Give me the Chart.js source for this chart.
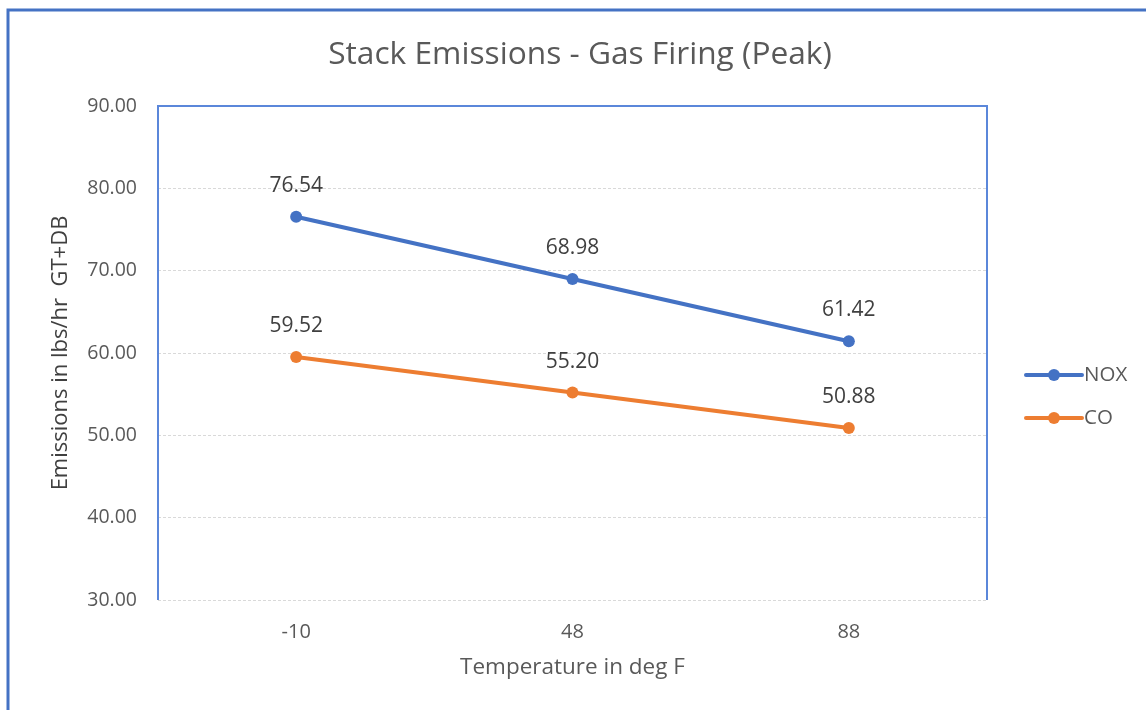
<!DOCTYPE html>
<html>
<head>
<meta charset="utf-8">
<script src="https://cdn.jsdelivr.net/npm/chart.js@4/dist/chart.umd.min.js"></script>
<style>
html,body{margin:0;padding:0;background:#fff;}
#c{display:block;}
</style>
</head>
<body>
<canvas id="c" width="1146" height="710"></canvas>
<script>
const categories = ['-10', '48', '88'];
const noxValues = [76.54, 68.98, 61.42];
const coValues = [59.52, 55.20, 50.88];
const seriesNames = ['NOX', 'CO'];
const yTicks = [30, 40, 50, 60, 70, 80, 90];
const chartTitle = 'Stack Emissions - Gas Firing (Peak)';

const FONT = "'Open Sans', 'Noto Sans', sans-serif";
const TXT = '#595959';
const FRAME = '#4472C4';

const framePlugin = {
  id: 'frame',
  beforeDraw(chart) {
    const ctx = chart.ctx;
    ctx.save();
    ctx.fillStyle = '#fff';
    ctx.fillRect(0, 0, chart.width, chart.height);
    ctx.strokeStyle = FRAME;
    ctx.lineWidth = 3;
    ctx.beginPath();
    ctx.moveTo(8, chart.height);
    ctx.lineTo(8, 10);
    ctx.lineTo(chart.width, 10);
    ctx.stroke();
    // title
    ctx.font = '31.7px ' + FONT;
    ctx.fillStyle = TXT;
    ctx.textAlign = 'center';
    ctx.textBaseline = 'middle';
    ctx.fillText(chartTitle, 580, 55);
    ctx.restore();
  },
  beforeDatasetsDraw(chart) {
    const a = chart.chartArea;
    const ctx = chart.ctx;
    ctx.save();
    ctx.strokeStyle = '#5B87DA';
    ctx.lineWidth = 2;
    ctx.beginPath();
    ctx.moveTo(a.left, a.bottom);
    ctx.lineTo(a.left, a.top);
    ctx.lineTo(a.right, a.top);
    ctx.lineTo(a.right, a.bottom);
    ctx.stroke();
    ctx.restore();
  }
};

const labelPlugin = {
  id: 'valueLabels',
  afterDatasetsDraw(chart) {
    const ctx = chart.ctx;
    ctx.save();
    ctx.font = '21px ' + FONT;
    ctx.fillStyle = '#404040';
    ctx.textAlign = 'center';
    ctx.textBaseline = 'middle';
    chart.data.datasets.forEach((ds, i) => {
      const meta = chart.getDatasetMeta(i);
      meta.data.forEach((pt, j) => {
        ctx.fillText(ds.data[j].toFixed(2), pt.x, pt.y - 31);
      });
    });
    ctx.restore();
  }
};

const legendPlugin = {
  id: 'customLegend',
  afterDraw(chart) {
    const ctx = chart.ctx;
    const a = chart.chartArea;
    ctx.save();
    ctx.font = '20.5px ' + FONT;
    ctx.textBaseline = 'middle';
    ctx.textAlign = 'left';
    const x0 = a.right + 39;
    const y0 = 375;
    chart.data.datasets.forEach((ds, i) => {
      const y = y0 + i * 43;
      ctx.strokeStyle = ds.borderColor;
      ctx.lineWidth = 4;
      ctx.lineCap = 'round';
      ctx.beginPath();
      ctx.moveTo(x0, y);
      ctx.lineTo(x0 + 56, y);
      ctx.stroke();
      ctx.fillStyle = ds.borderColor;
      ctx.beginPath();
      ctx.arc(x0 + 28, y, 6, 0, Math.PI * 2);
      ctx.fill();
      ctx.fillStyle = TXT;
      ctx.fillText(ds.label, x0 + 58, y);
    });
    ctx.restore();
  }
};

new Chart(document.getElementById('c'), {
  type: 'line',
  data: {
    labels: categories,
    datasets: [
      {
        label: seriesNames[0],
        data: noxValues,
        borderColor: '#4472C4',
        backgroundColor: '#4472C4',
        borderWidth: 4,
        pointRadius: 6,
        pointBackgroundColor: '#4472C4',
        pointBorderWidth: 0,
        tension: 0
      },
      {
        label: seriesNames[1],
        data: coValues,
        borderColor: '#ED7D31',
        backgroundColor: '#ED7D31',
        borderWidth: 4,
        pointRadius: 6,
        pointBackgroundColor: '#ED7D31',
        pointBorderWidth: 0,
        tension: 0
      }
    ]
  },
  options: {
    responsive: false,
    animation: false,
    devicePixelRatio: 1,
    layout: { padding: { left: 0, right: 159, top: 106, bottom: 0 } },
    plugins: {
      legend: { display: false },
      tooltip: { enabled: false },
      title: { display: false }
    },
    scales: {
      x: {
        offset: true,
        grid: { display: false, drawTicks: false },
        border: { display: false },
        ticks: { color: TXT, font: { family: FONT, size: 20 }, padding: 20 },
        title: {
          display: true,
          text: 'Temperature in deg F',
          color: TXT,
          font: { family: FONT, size: 22.5, lineHeight: 1.2 },
          padding: { top: 0, bottom: 29 }
        },
        afterFit(scale) { scale.height = 110; }
      },
      y: {
        min: yTicks[0],
        max: yTicks[yTicks.length - 1],
        afterBuildTicks(scale) { scale.ticks = yTicks.map(v => ({ value: v })); },
        grid: { color: '#d9d9d9', lineWidth: 1, drawTicks: false },
        border: { display: false, dash: [3, 2] },
        ticks: {
          color: TXT,
          font: { family: FONT, size: 19.5 },
          padding: 21,
          callback: v => Number(v).toFixed(2)
        },
        title: {
          display: true,
          text: 'Emissions in lbs/hr  GT+DB',
          color: '#404040',
          font: { family: FONT, size: 22, lineHeight: 1.2 },
          padding: { top: 48, bottom: 0 }
        },
        afterFit(scale) { scale.width = 158; }
      }
    }
  },
  plugins: [framePlugin, labelPlugin, legendPlugin]
});
</script>
</body>
</html>
